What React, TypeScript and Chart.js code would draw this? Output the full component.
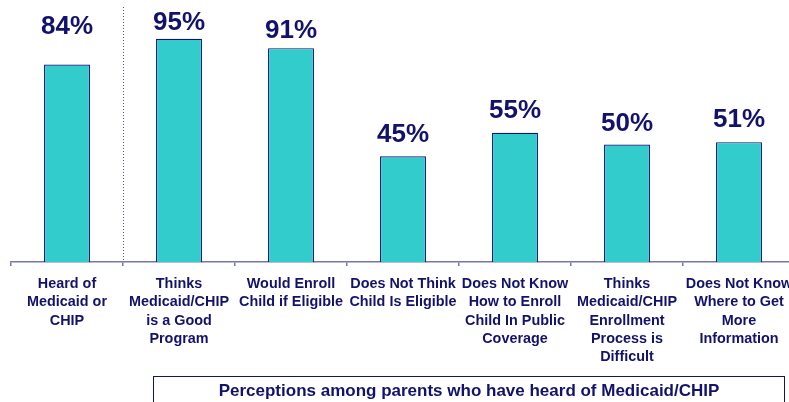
import React, { useEffect, useRef } from "react";
import { Chart, registerables } from "chart.js";

Chart.register(...registerables);

const categories: string[][] = [
  ["Heard of", "Medicaid or", "CHIP"],
  ["Thinks", "Medicaid/CHIP", "is a Good", "Program"],
  ["Would Enroll", "Child if Eligible"],
  ["Does Not Think", "Child Is Eligible"],
  ["Does Not Know", "How to Enroll", "Child In Public", "Coverage"],
  ["Thinks", "Medicaid/CHIP", "Enrollment", "Process is", "Difficult"],
  ["Does Not Know", "Where to Get", "More", "Information"],
];
const values: number[] = [84, 95, 91, 45, 55, 50, 51];
const valueLabels: string[] = ["84%", "95%", "91%", "45%", "55%", "50%", "51%"];
const footnote = "Perceptions among parents who have heard of Medicaid/CHIP";

const NAVY = "#12126c";
const TEAL = "#33cccc";
const AXIS = "#7676b0";
const FONT = "'Liberation Sans', Arial, sans-serif";

export default function App() {
  const ref = useRef<HTMLCanvasElement | null>(null);

  useEffect(() => {
    if (!ref.current) return;
    const labelGap = [31, 9, 10, 14, 15, 14, 15];
    const decor = {
      id: "decor",
      afterDatasetsDraw(chart: any) {
        const ctx = chart.ctx;
        const meta = chart.getDatasetMeta(0);
        const x = chart.scales.x;
        ctx.save();
        // dotted separator
        const sx = Math.round((x.getPixelForValue(0) + x.getPixelForValue(1)) / 2) + 0.5;
        ctx.strokeStyle = "#5050a8";
        ctx.lineWidth = 1;
        ctx.setLineDash([1, 2]);
        ctx.beginPath();
        ctx.moveTo(sx, 7);
        ctx.lineTo(sx, chart.chartArea.bottom);
        ctx.stroke();
        ctx.setLineDash([]);
        // value labels
        ctx.fillStyle = NAVY;
        ctx.font = `bold 26px ${FONT}`;
        ctx.textAlign = "center";
        ctx.textBaseline = "alphabetic";
        meta.data.forEach((bar: any, i: number) => {
          ctx.fillText(valueLabels[i], bar.x, bar.y - labelGap[i]);
        });
        // bottom box
        ctx.strokeStyle = NAVY;
        ctx.lineWidth = 1;
        ctx.strokeRect(153.5, 376.5, 631, 40);
        ctx.font = `bold 17px ${FONT}`;
        ctx.textBaseline = "middle";
        ctx.fillText(footnote, 469, 391);
        ctx.restore();
      },
    };

    const chart = new Chart(ref.current, {
      type: "bar",
      data: {
        labels: categories,
        datasets: [
          {
            data: values,
            backgroundColor: TEAL,
            borderColor: "#101078",
            borderWidth: 1.2,
            barPercentage: 0.41,
            categoryPercentage: 1,
          },
        ],
      },
      options: {
        animation: false,
        responsive: false,
        devicePixelRatio: 1,
        layout: { padding: { left: 11, right: 25, top: 27, bottom: 0 } },
        plugins: { legend: { display: false }, tooltip: { enabled: false } },
        scales: {
          x: {
            afterFit(axis: any) {
              axis.height = 140;
            },
            border: { display: true, color: AXIS, width: 1.5 },
            grid: {
              display: true,
              drawOnChartArea: false,
              drawTicks: true,
              tickLength: 4,
              color: AXIS,
              lineWidth: 1.5,
              offset: true,
            },
            ticks: {
              color: NAVY,
              padding: 9,
              maxRotation: 0,
              autoSkip: false,
              font: { family: FONT, size: 14.4, weight: "bold", lineHeight: 1.27 },
            },
          },
          y: {
            display: false,
            min: 0,
            max: 100,
          },
        },
      },
      plugins: [decor],
    } as any);
    return () => chart.destroy();
  }, []);

  return (
    <div
      style={{
        position: "fixed",
        left: 0,
        top: 0,
        width: 789,
        height: 402,
        overflow: "hidden",
        background: "#fff",
      }}
    >
      <canvas ref={ref} width={820} height={402} style={{ width: 820, height: 402 }} />
    </div>
  );
}
